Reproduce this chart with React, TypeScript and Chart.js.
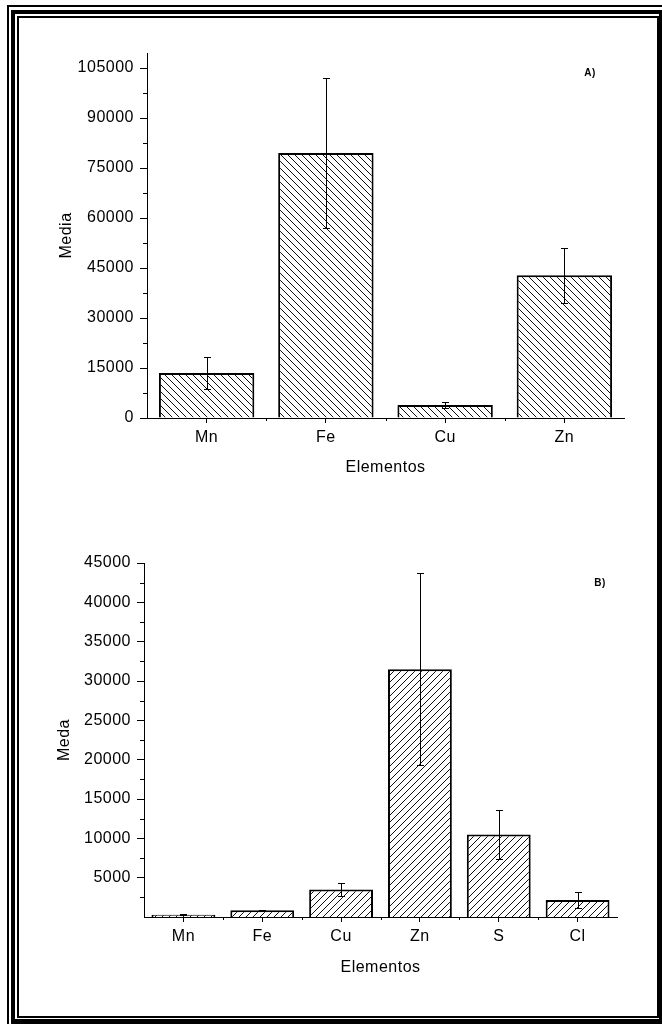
import React, { useEffect, useRef } from "react";
import { Chart, registerables } from "chart.js";

Chart.register(...registerables);

// ---- Data: chart A ----
const categoriesA = ["Mn", "Fe", "Cu", "Zn"];
const valuesA = [13500, 79500, 3900, 42800];
const errorsA = [4900, 22600, 950, 8150];
const majorTicksA = [0, 15000, 30000, 45000, 60000, 75000, 90000, 105000];
const minorTicksA = [7500, 22500, 37500, 52500, 67500, 82500, 97500];

// ---- Data: chart B ----
const categoriesB = ["Mn", "Fe", "Cu", "Zn", "S", "Cl"];
const valuesB = [300, 850, 3500, 31500, 10500, 2150];
const errorsB = [60, 100, 850, 12200, 3150, 1000];
const majorTicksB = [5000, 10000, 15000, 20000, 25000, 30000, 35000, 40000, 45000];
const minorTicksB = [2500, 7500, 12500, 17500, 22500, 27500, 32500, 37500, 42500];

const FONT = "'Liberation Sans', Arial, sans-serif";
const SPACING = "0.5px";

function makeHatch(kind: "back" | "fwd"): CanvasPattern | string {
  const s = 7;
  const c = document.createElement("canvas");
  c.width = s;
  c.height = s;
  const g = c.getContext("2d");
  if (!g) return "#fff";
  g.fillStyle = "#ffffff";
  g.fillRect(0, 0, s, s);
  g.strokeStyle = "#111";
  g.lineWidth = 1;
  g.beginPath();
  for (let k = -1; k <= 1; k++) {
    if (kind === "back") {
      g.moveTo(k * s, 0);
      g.lineTo(k * s + s, s);
    } else {
      g.moveTo(k * s, s);
      g.lineTo(k * s + s, 0);
    }
  }
  g.stroke();
  return g.createPattern(c, "repeat") || "#fff";
}

type Cfg = {
  categories: string[];
  values: number[];
  errors: number[];
  major: number[];
  minor: number[];
  max: number;
  hatch: "back" | "fwd";
  yTitle: string;
  yTitlePad: number;
  xTitlePad: number;
  corner: string;
  cornerDx: number;
  cornerDy: number;
  padding: { left: number; right: number; top: number; bottom: number };
  barPct: number;
  hideZero: boolean;
};

function buildChart(canvas: HTMLCanvasElement, cfg: Cfg) {
  const ctx0 = canvas.getContext("2d") as any;
  if (ctx0) ctx0.letterSpacing = SPACING;
  const decor = {
    id: "decor",
    beforeDraw(chart: any) {
      (chart.ctx as any).letterSpacing = SPACING;
    },
    afterDatasetsDraw(chart: any) {
      const { ctx, chartArea } = chart;
      const xs = chart.scales.x;
      const ys = chart.scales.y;
      ctx.save();
      ctx.strokeStyle = "#000";
      ctx.lineWidth = 1;
      ctx.beginPath();
      cfg.values.forEach((v, i) => {
        const px = Math.round(xs.getPixelForValue(i)) + 0.5;
        const t = Math.round(ys.getPixelForValue(v + cfg.errors[i])) + 0.5;
        const b = Math.round(ys.getPixelForValue(Math.max(0, v - cfg.errors[i]))) + 0.5;
        ctx.moveTo(px, t);
        ctx.lineTo(px, b);
        ctx.moveTo(px - 3.5, t);
        ctx.lineTo(px + 3.5, t);
        ctx.moveTo(px - 3.5, b);
        ctx.lineTo(px + 3.5, b);
      });
      cfg.minor.forEach((v) => {
        const py = Math.round(ys.getPixelForValue(v)) + 0.5;
        ctx.moveTo(chartArea.left - 4, py);
        ctx.lineTo(chartArea.left, py);
      });
      for (let i = 0; i < cfg.categories.length - 1; i++) {
        const px = Math.round(xs.getPixelForValue(i + 0.5)) + 0.5;
        ctx.moveTo(px, chartArea.bottom);
        ctx.lineTo(px, chartArea.bottom + 3);
      }
      ctx.stroke();
      ctx.fillStyle = "#000";
      ctx.font = `bold 10px ${FONT}`;
      ctx.textAlign = "center";
      ctx.textBaseline = "middle";
      ctx.fillText(cfg.corner, chartArea.right - cfg.cornerDx, chartArea.top + cfg.cornerDy);
      ctx.restore();
    },
  };

  return new Chart(canvas, {
    type: "bar",
    data: {
      labels: cfg.categories,
      datasets: [
        {
          data: cfg.values,
          backgroundColor: makeHatch(cfg.hatch) as any,
          borderColor: "#000",
          borderWidth: 2,
          barPercentage: cfg.barPct,
          categoryPercentage: 1,
        },
      ],
    },
    options: {
      responsive: false,
      animation: false,
      devicePixelRatio: 1,
      layout: { padding: cfg.padding },
      plugins: { legend: { display: false }, tooltip: { enabled: false } },
      scales: {
        x: {
          offset: true,
          grid: {
            offset: false,
            drawOnChartArea: false,
            drawTicks: true,
            tickLength: 5,
            color: "#000",
            lineWidth: 1,
          },
          border: { display: true, color: "#000", width: 1 },
          ticks: { color: "#000", padding: 5, font: { family: FONT, size: 16 }, maxRotation: 0 },
          title: {
            display: true,
            text: "Elementos",
            color: "#000",
            font: { family: FONT, size: 16 },
            padding: { top: 0, bottom: cfg.xTitlePad },
          },
          afterFit(scale: any) {
            scale.height = 60;
          },
        },
        y: {
          min: 0,
          max: cfg.max,
          grid: {
            drawOnChartArea: false,
            drawTicks: true,
            tickLength: 7,
            color: "#000",
            lineWidth: 1,
          },
          border: { display: true, color: "#000", width: 1 },
          ticks: {
            color: "#000",
            padding: 6,
            font: { family: FONT, size: 16 },
            callback: (v: any) => (cfg.hideZero && Number(v) === 0 ? "" : String(v)),
          },
          afterBuildTicks(scale: any) {
            scale.ticks = cfg.major.map((v) => ({ value: v }));
          },
          title: {
            display: true,
            text: cfg.yTitle,
            color: "#000",
            font: { family: FONT, size: 16 },
            padding: { top: cfg.yTitlePad, bottom: 0 },
          },
          afterFit(scale: any) {
            scale.width = 90;
          },
        },
      },
    },
    plugins: [decor],
  } as any);
}

export default function App() {
  const refA = useRef<HTMLCanvasElement | null>(null);
  const refB = useRef<HTMLCanvasElement | null>(null);

  useEffect(() => {
    const charts: Chart[] = [];
    if (refA.current) {
      charts.push(
        buildChart(refA.current, {
          categories: categoriesA,
          values: valuesA,
          errors: errorsA,
          major: majorTicksA,
          minor: minorTicksA,
          max: 109500,
          hatch: "back",
          yTitle: "Media",
          yTitlePad: 0,
          xTitlePad: 1,
          corner: "A)",
          cornerDx: 34,
          cornerDy: 20,
          padding: { left: 37, right: 26, top: 33, bottom: 22 },
          barPct: 0.8,
          hideZero: false,
        })
      );
    }
    if (refB.current) {
      charts.push(
        buildChart(refB.current, {
          categories: categoriesB,
          values: valuesB,
          errors: errorsB,
          major: majorTicksB,
          minor: minorTicksB,
          max: 45000,
          hatch: "fwd",
          yTitle: "Meda",
          yTitlePad: 1,
          xTitlePad: 0,
          corner: "B)",
          cornerDx: 17,
          cornerDy: 20,
          padding: { left: 34, right: 33, top: 43, bottom: 23 },
          barPct: 0.81,
          hideZero: true,
        })
      );
    }
    return () => charts.forEach((c) => c.destroy());
  }, []);

  const abs: React.CSSProperties = { position: "absolute", boxSizing: "border-box" };

  return (
    <div
      style={{
        position: "absolute",
        left: 0,
        top: 0,
        width: 662,
        height: 1024,
        overflow: "hidden",
        background: "#fff",
      }}
    >
      <div style={{ ...abs, left: 7, top: 5, width: 700, height: 1100, border: "2px solid #000" }} />
      <div
        style={{
          ...abs,
          left: 11,
          top: 10,
          width: 652,
          height: 1015,
          borderTop: "4px solid #000",
          borderLeft: "4px solid #000",
          borderRight: "4px solid #000",
          borderBottom: "6px solid #000",
        }}
      />
      <div style={{ ...abs, left: 17, top: 16, width: 642, height: 1002, border: "2px solid #000" }} />
      <canvas
        ref={refA}
        width={630}
        height={480}
        style={{ position: "absolute", left: 20, top: 20, width: 630, height: 480 }}
      />
      <canvas
        ref={refB}
        width={630}
        height={480}
        style={{ position: "absolute", left: 20, top: 520, width: 630, height: 480 }}
      />
    </div>
  );
}
